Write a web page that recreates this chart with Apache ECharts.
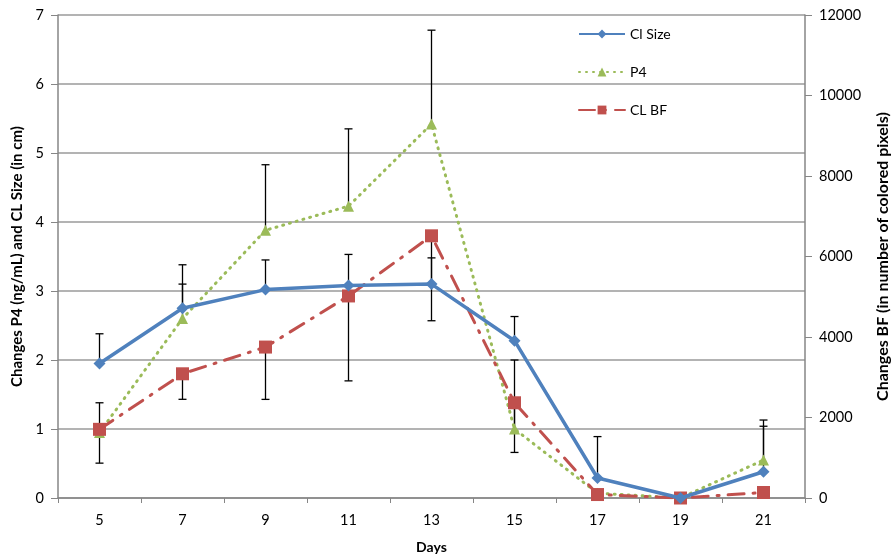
<!DOCTYPE html>
<html>
<head>
<meta charset="utf-8">
<script src="https://cdn.jsdelivr.net/npm/echarts@6/dist/echarts.min.js"></script>
<style>html,body{margin:0;padding:0;background:#fff}#c{width:893px;height:557px}</style>
</head>
<body>
<div id="c"></div>
<script>
const days = ['5','7','9','11','13','15','17','19','21'];
const clSize = [1.95, 2.75, 3.02, 3.08, 3.10, 2.28, 0.29, 0, 0.38];
const clSizePlus = [0.43, 0.63, 0.43, 0.45, 0.38, 0.35, 0.60, 0, 0.66];
const p4 = [0.95, 2.60, 3.88, 4.23, 5.42, 1.00, 0.07, 0, 0.55];
const p4Plus = [0.43, 0.50, 0.95, 1.12, 1.36, 1.00, 0, 0, 0.58];
const clBF = [1706, 3086, 3750, 5020, 6514, 2366, 86, 0, 137];
const clBFMinus = [840, 634, 1300, 2110, 2110, 1234, 0, 0, 0];

function errData(vals, errs, sign){
  const out = [];
  vals.forEach((v,i)=>{ if(errs[i]>0) out.push([i, v, v + sign*errs[i]]); });
  return out;
}
function renderErr(params, api){
  const x = api.value(0), base = api.value(1), end = api.value(2);
  const p1 = api.coord([x, base]), p2 = api.coord([x, end]);
  const w = 4;
  const st = {stroke:'#000', lineWidth:1.3};
  return {type:'group', children:[
    {type:'line', shape:{x1:p1[0],y1:p1[1],x2:p2[0],y2:p2[1]}, style:st},
    {type:'line', shape:{x1:p2[0]-w,y1:p2[1],x2:p2[0]+w,y2:p2[1]}, style:st}
  ]};
}
const font = 'Lato, "Open Sans", sans-serif';
const axisGray = '#868686';
const chart = echarts.init(document.getElementById('c'));
chart.setOption({
  animation:false,
  textStyle:{fontFamily:font},
  grid:{left:58, right:88, top:15, bottom:59, containLabel:false, outerBoundsMode:'none'},
  legend:{
    orient:'vertical', left:573, top:22, itemGap:24, itemWidth:46, itemHeight:11,
    data:['Cl Size','P4','CL BF'],
    textStyle:{fontSize:14, color:'#000', fontFamily:font}
  },
  xAxis:{
    type:'category', data:days, boundaryGap:true,
    name:'Days', nameLocation:'middle', nameGap:42,
    nameTextStyle:{fontWeight:'bold', fontSize:14, color:'#000'},
    axisLine:{lineStyle:{color:axisGray, width:1.5}},
    axisTick:{show:true, length:5, lineStyle:{color:axisGray}},
    axisLabel:{color:'#000', fontSize:14.5, margin:15}
  },
  yAxis:[{
    type:'value', min:0, max:7, interval:1, position:'left',
    name:'Changes P4 (ng/mL) and CL Size (in cm)', nameLocation:'middle', nameGap:33, nameRotate:90,
    nameTextStyle:{fontWeight:'bold', fontSize:15, color:'#000'},
    axisLine:{show:true, lineStyle:{color:axisGray, width:1.5}},
    axisTick:{show:true, length:7, lineStyle:{color:axisGray}},
    axisLabel:{color:'#000', fontSize:14.5, margin:14},
    splitLine:{lineStyle:{color:'#9a9a9a', width:1.5}}
  },{
    type:'value', min:0, max:12000, interval:2000, position:'right',
    name:'Changes BF (in number of colored pixels)', nameLocation:'middle', nameGap:70, nameRotate:90,
    nameTextStyle:{fontWeight:'bold', fontSize:16, color:'#000'},
    axisLine:{show:true, lineStyle:{color:axisGray, width:1.5}},
    axisTick:{show:true, length:7, lineStyle:{color:axisGray}},
    axisLabel:{color:'#000', fontSize:14.5, margin:14, formatter:v=>String(v)},
    splitLine:{show:false}
  }],
  series:[
    {type:'custom', renderItem:renderErr, yAxisIndex:0, data:errData(p4, p4Plus, 1), z:1, silent:true},
    {type:'custom', renderItem:renderErr, yAxisIndex:0, data:errData(clSize, clSizePlus, 1), z:1, silent:true},
    {type:'custom', renderItem:renderErr, yAxisIndex:1, data:errData(clBF, clBFMinus, -1), z:1, silent:true},
    {name:'P4', type:'line', yAxisIndex:0, data:p4, symbol:'triangle', symbolSize:11,
      lineStyle:{color:'#9BBB59', width:3, type:[1,6], cap:'round'},
      itemStyle:{color:'#9BBB59'}, z:3},
    {name:'CL BF', type:'line', yAxisIndex:1, data:clBF, symbol:'rect', symbolSize:13,
      lineStyle:{color:'#C0504D', width:3, type:[16,9,2,9], cap:'round'},
      itemStyle:{color:'#C0504D'}, z:4},
    {name:'Cl Size', type:'line', yAxisIndex:0, data:clSize, symbol:'diamond', symbolSize:12,
      lineStyle:{color:'#4F81BD', width:3.5},
      itemStyle:{color:'#4F81BD'}, z:5}
  ]
});
</script>
</body>
</html>
